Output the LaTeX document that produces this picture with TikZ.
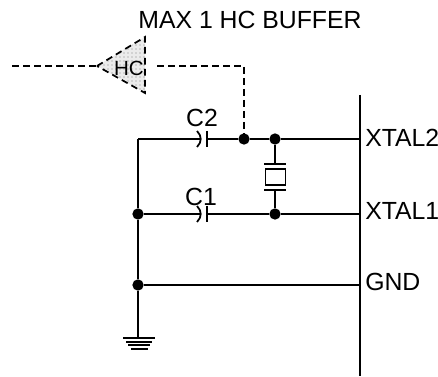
\documentclass[tikz,border=0pt]{standalone}
\usepackage{fontspec}
\setmainfont{Liberation Sans}
\usetikzlibrary{positioning,patterns}
\tikzset{every node/.append style={scale=1}}
\tikzset{wire/.style={line width=1.3pt,black},
  hcdash/.style={line width=1.3pt,dash pattern=on 5pt off 3.25pt},
  dotnode/.style={circle,fill=black,inner sep=0pt,minimum size=8.5pt},
  pinlabel/.style={inner sep=0pt,anchor=west,font=\fontsize{18.6}{18.6}\selectfont},
  partlabel/.style={inner sep=0pt,font=\fontsize{18.6}{18.6}\selectfont}}
\begin{document}
\begin{tikzpicture}[x=0.75pt,y=-0.75pt]
      \useasboundingbox (0,0) rectangle (438,377);

      % chip side
      \coordinate (bustop) at (360,95);
      \coordinate (busbot) at (360,376);
      \draw[wire] (bustop) -- (busbot);

      \coordinate (x2) at (360,139);
      \coordinate (x1) at (360,214);
      \coordinate (gnd) at (360,285);
      \node[pinlabel] (lx2) at (365,138) {XTAL2};
      \node[pinlabel] (lx1) at (365,211) {XTAL1};
      \node[pinlabel] (lgnd) at (365,282) {GND};

      \node[dotnode] (top) at (275,139) {};
      \node[dotnode] (tap) at (244,139) {};
      \node[dotnode] (bot) at (275,214) {};
      \node[dotnode] (left1) at (138,214) {};
      \node[dotnode] (left2) at (138,285) {};
      \coordinate (corner) at (138,139);
      \coordinate (earth) at (138,338);

      \draw[wire] (corner) -- (left1) -- (left2) -- (earth);
      \draw[wire] (left2) -- (gnd);
      \draw[wire] (top) -- (x2);
      \draw[wire] (bot) -- (x1);
      \draw[wire] (top) -- (tap);
      \draw[wire] (tap) -- (207,139);
      \draw[wire] (corner) -- (200,139);
      \draw[wire] (left1) -- (200,214);
      \draw[wire] (bot) -- (207,214);

      % capacitors
      \foreach \capy in {139,214}{
        \draw[wire] (197,\capy-8) .. controls (202,\capy-3) and (202,\capy+3) .. (197,\capy+8);
        \draw[wire] (207,\capy-8) -- (207,\capy+8);
      }
      \node[partlabel] (c2) at (202,118) {C2};
      \node[partlabel] (c1) at (201,197) {C1};

      % crystal
      \node[draw,line width=1.3pt,minimum width=15pt,minimum height=12.5pt,inner sep=0pt] (xtal) at (275.5,177) {};
      \draw[wire] (top) -- (275,164);
      \draw[wire] (bot) -- (275,190);
      \draw[wire] (264,164) -- (286,164);
      \draw[wire] (264,190) -- (286,190);

      % ground
      \draw[wire] (123,338) -- (155,338);
      \draw[wire] (126,341.7) -- (152,341.7);
      \draw[wire] (128,345) -- (150,345);
      \draw[wire] (131,348.7) -- (148,348.7);

      % buffer
      \coordinate (tipb) at (97,66);
      \coordinate (topb) at (145,37);
      \coordinate (botb) at (145,93);
      \fill[black!8] (tipb) -- (topb) -- (botb) -- cycle;
      \fill[pattern=dots,pattern color=gray] (tipb) -- (topb) -- (botb) -- cycle;
      \draw[hcdash] (tipb) -- (topb) -- (botb) -- cycle;
      \node[inner sep=0pt,font=\fontsize{15.4}{15.4}\selectfont] (hc) at (129,68) {HC};
      \coordinate (inb) at (12,66);
      \coordinate (outb) at (244,66);
      \coordinate (outs) at (157,66);
      \draw[hcdash] (inb) -- (tipb);
      \draw[hcdash] (outs) -- (outb) -- (tap);
      \node[partlabel] (title) at (250,20) {MAX 1 HC BUFFER};
    \end{tikzpicture}
\end{document}
